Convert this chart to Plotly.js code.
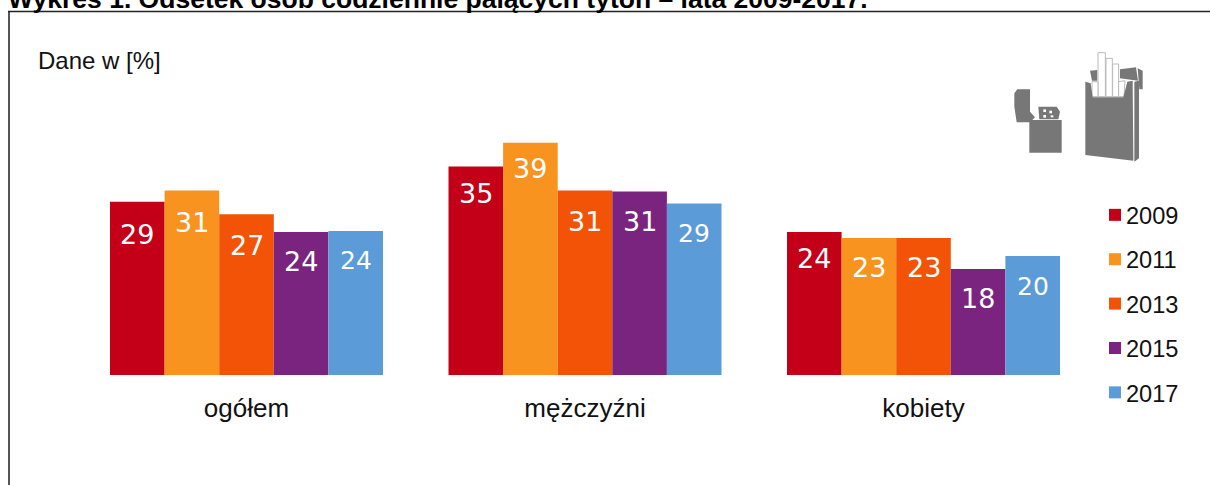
<!DOCTYPE html>
<html>
<head>
<meta charset="utf-8">
<script src="https://cdn.plot.ly/plotly-3.0.1.min.js"></script>
<style>html,body{margin:0;padding:0;background:#fff;overflow:hidden}#chart{width:1210px;height:485px}</style>
</head>
<body>
<div id="chart"></div>
<script>
const categories = ['ogółem', 'mężczyźni', 'kobiety'];
const years = ['2009', '2011', '2013', '2015', '2017'];
const v2009 = [29.1, 35, 24];
const v2011 = [31, 39, 23];
const v2013 = [27, 31, 23];
const v2015 = [24, 30.8, 17.8];
const v2017 = [24.2, 28.8, 20];
const colors = ['#C40018', '#F7931E', '#F25306', '#7A237F', '#5B9BD8'];
const seriesValues = [v2009, v2011, v2013, v2015, v2017];
const W = 1210, H = 485;
const px = (x, y) => (x / W).toFixed(5) + ',' + (1 - y / H).toFixed(5);
const poly = pts => 'M' + pts.map(p => px(p[0], p[1])).join('L') + 'Z';
const z = (x, y) => [980 + x / 3, 40 + y / 3];
const shape = (pts, fill, line) => ({type: 'path', xref: 'paper', yref: 'paper', path: poly(pts.map(p => z(p[0], p[1]))), fillcolor: fill, line: {width: line ? 1 : 0, color: line || fill}, layer: 'above'});
const G = '#777777';
const shapes = [
  {type: 'path', xref: 'paper', yref: 'paper', path: 'M' + px(9, 485) + 'L' + px(9, 11.5), line: {color: '#555', width: 2}},
  {type: 'path', xref: 'paper', yref: 'paper', path: 'M' + px(8, 11.5) + 'L' + px(1210, 11.5), line: {color: '#222', width: 1.5}},
  shape([[148,240],[245,240],[245,338],[148,338]], G),
  shape([[112,148],[150,148],[150,215],[165,232],[150,247],[110,247],[103,200],[103,160]], G),
  shape([[175,200],[230,200],[240,215],[235,238],[178,238]], G),
  shape([[190,208],[198,208],[198,216],[190,216]], '#fff'),
  shape([[208,212],[216,212],[216,220],[208,220]], '#fff'),
  shape([[190,225],[198,225],[198,233],[190,233]], '#fff'),
  shape([[212,226],[220,226],[220,232],[212,232]], '#fff'),
  shape([[330,92],[352,90],[352,122],[336,122]], G),
  shape([[420,88],[468,82],[474,122],[420,115]], G),
  shape([[473,85],[488,92],[488,148],[478,148]], G),
  shape([[354,38],[376,38],[376,170],[354,170]], '#fff', '#bbb'),
  shape([[378,55],[397,55],[397,170],[378,170]], '#fff', '#bbb'),
  shape([[398,72],[416,72],[416,170],[398,170]], '#fff', '#bbb'),
  shape([[336,125],[354,125],[354,170],[336,170]], '#fff', '#bbb'),
  shape([[416,125],[435,122],[432,170],[416,170]], '#fff', '#bbb'),
  shape([[316,125],[332,130],[338,172],[430,172],[442,125],[458,122],[460,362],[316,345]], G),
  shape([[463,125],[477,122],[477,355],[463,365]], G)
];
const traces = years.map((y, i) => ({
  type: 'bar', name: y, x: categories, y: seriesValues[i],
  legendgroup: y, marker: {color: colors[i]}, hoverinfo: 'x+y'
}));
const barStep = 54.6;
const labelDrop = [[33, 27, 26], [32, 26, 29], [31, 31, 29], [29, 30, 30], [30, 30, 31]];
const labelSize = [[27, 27, 27], [27, 27, 27], [27, 27, 27], [27, 27, 27], [25, 25, 25]];
const annotations = [];
years.forEach((y, i) => categories.forEach((c, j) => annotations.push({
  x: c, y: seriesValues[i][j], xref: 'x', yref: 'y', text: String(Math.round(seriesValues[i][j])),
  showarrow: false, xshift: (i - 2) * barStep, yshift: -labelDrop[i][j],
  yanchor: 'middle', xanchor: 'center', font: {family: '"DejaVu Sans"', size: labelSize[i][j], color: '#fff'}
})));
annotations.push({xref: 'paper', yref: 'paper', x: 36 / W, y: 1 - 60 / H, text: 'Dane w [%]', showarrow: false, xanchor: 'left', yanchor: 'middle', font: {family: '"Liberation Sans"', size: 24, color: '#111'}});
const layout = {
  width: W, height: H, margin: {l: 0, r: 0, t: 0, b: 0},
  paper_bgcolor: '#fff', plot_bgcolor: '#fff', barmode: 'group', bargap: 0.1935, bargroupgap: 0,
  title: {text: '<b>Wykres 1. Odsetek osób codziennie palących tytoń – lata 2009-2017.</b>', x: 8 / W, xanchor: 'left', y: 1 - 7.5 / H, yanchor: 'bottom', font: {family: '"Liberation Sans"', size: 26.5, color: '#000'}},
  xaxis: {domain: [77.25 / W, 1092.75 / W], type: 'category', range: [-0.5, 2.5], showgrid: false, zeroline: false, showline: false, ticks: '', tickfont: {family: '"Liberation Sans"', size: 26, color: '#111'}, ticklabelstandoff: 15},
  yaxis: {domain: [110 / H, 378 / H], range: [0, 45], visible: false},
  legend: {x: 1086 / W, xanchor: 'left', y: 1 - 193 / H, yanchor: 'top', tracegroupgap: 10.7, font: {family: '"Liberation Sans"', size: 23.6, color: '#111'}, itemclick: false, bgcolor: 'rgba(0,0,0,0)'},
  showlegend: true, shapes, annotations
};
Plotly.newPlot('chart', traces, layout, {displayModeBar: false}).then(() => {
  document.querySelectorAll('.legend .legendsymbols').forEach(g => g.setAttribute('transform', 'translate(9,0)'));
});
</script>
</body>
</html>
